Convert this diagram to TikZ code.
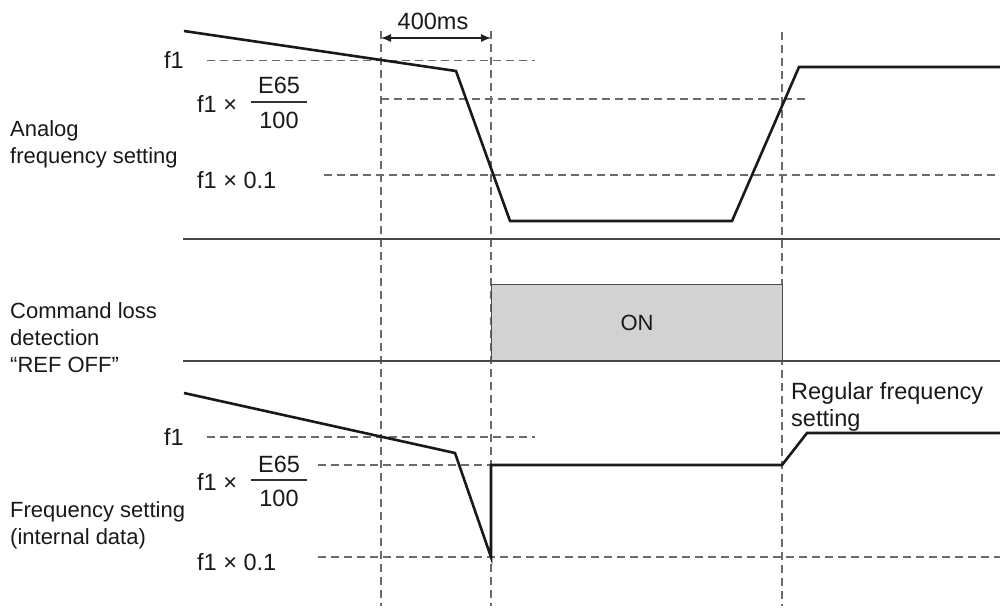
\documentclass[tikz,border=0pt]{standalone}
\usepackage{fontspec}
\setmainfont{Liberation Sans}
\usetikzlibrary{arrows.meta}
\begin{document}
\begin{tikzpicture}[x=1pt,y=-1pt,
  sig/.style={line width=2.6pt, draw=black!90, line join=miter},
  sep/.style={line width=1.2pt, draw=black!72},
  guide/.style={line width=1.1pt, draw=black!58, dash pattern=on 8pt off 5pt},
  lbl/.style={font=\fontsize{22}{27}\selectfont, inner sep=0pt, text=black!90},
  big/.style={font=\fontsize{23.5}{27}\selectfont, inner sep=0pt, text=black!90},
  fracbar/.style={line width=1.1pt, draw=black!80},
  onbox/.style={fill=gray!35, draw=black!70, line width=1.2pt},
  dim/.style={line width=1.2pt, draw=black!88, {Latex[length=10pt,width=8pt]}-{Latex[length=10pt,width=8pt]}}]
\useasboundingbox (0,0) rectangle (1000,610);

% ---------- guide coordinates ----------
\coordinate (v1t) at (381,31);  \coordinate (v1b) at (381,606);
\coordinate (v2t) at (491,31);  \coordinate (v2b) at (491,606);
\coordinate (v3t) at (782,32);  \coordinate (v3b) at (782,606);

% vertical dashed guides
\draw[guide] (v1t) -- (v1b);
\draw[guide] (v2t) -- (v2b);
\draw[guide] (v3t) -- (v3b);

% horizontal dashed guides (upper chart)
\coordinate (hf1a) at (207,60.5); \coordinate (hf1b) at (535,60.5);
\coordinate (hea) at (381,99);    \coordinate (heb) at (806,99);
\coordinate (hla) at (324,175);   \coordinate (hlb) at (1000,175);
\draw[guide] (hf1a) -- (hf1b);
\draw[guide] (hea) -- (heb);
\draw[guide] (hla) -- (hlb);

% horizontal dashed guides (lower chart)
\coordinate (gf1a) at (207,437); \coordinate (gf1b) at (535,437);
\coordinate (gea) at (318,465);  \coordinate (geb) at (491,465);
\coordinate (gla) at (318,557);  \coordinate (glb) at (1000,557);
\draw[guide] (gf1a) -- (gf1b);
\draw[guide] (gea) -- (geb);
\draw[guide] (gla) -- (glb);

% separators
\coordinate (s1a) at (183,239); \coordinate (s1b) at (1000,239);
\coordinate (s2a) at (183,361); \coordinate (s2b) at (1000,361);

% ON box
\node[onbox, minimum width=291pt, minimum height=77pt, inner sep=0pt, anchor=north west] (on) at (491,284) {};
\node[lbl] (ontext) at (on.center) {ON};

\draw[sep] (s1a) -- (s1b);
\draw[sep] (s2a) -- (s2b);

% 400ms dimension
\coordinate (d1) at (381,38); \coordinate (d2) at (491,38);
\draw[dim] (d1) -- (d2);
\node[big, anchor=base] (ms) at (433,30) {400ms};

% upper waveform
\coordinate (a0) at (184,31);
\coordinate (a1) at (456,71);
\coordinate (a2) at (510,221);
\coordinate (a3) at (732,221);
\coordinate (a4) at (799,67);
\coordinate (a5) at (1000,67);
\draw[sig] (a0) -- (a1) -- (a2) -- (a3) -- (a4) -- (a5);

% lower waveform
\coordinate (b0) at (184,393);
\coordinate (b1) at (455,453);
\coordinate (b2) at (491,557);
\coordinate (b3) at (491,465);
\coordinate (b4) at (782,465);
\coordinate (b5) at (807,433);
\coordinate (b6) at (1000,433);
\draw[sig] (b0) -- (b1) -- (b2) -- (b3) -- (b4) -- (b5) -- (b6);

% left labels (base anchor = last line)
\node[lbl, anchor=base west, align=left] (lab1) at (10,163) {Analog\\frequency setting};
\node[lbl, anchor=base west, align=left] (lab2) at (10,372) {Command loss\\detection\\“REF OFF”};
\node[lbl, anchor=base west, align=left] (lab3) at (10,544) {Frequency setting\\(internal data)};
\node[big, anchor=base west, align=left] (lab4) at (791,426) {Regular frequency\\setting};

% upper level labels
\node[big, anchor=base east] (uf1) at (184,68) {f1};
\node[big, anchor=base west] (ufx) at (197,112) {f1 ×};
\node[big, anchor=base] (ue) at (279,93) {E65};
\node[big, anchor=base] (uh) at (279,128) {100};
\coordinate (ufa) at (251,102); \coordinate (ufb) at (307,102);
\draw[fracbar] (ufa) -- (ufb);
\node[big, anchor=base west] (ul) at (197,188) {f1 × 0.1};

% lower level labels
\node[big, anchor=base east] (lf1) at (184,445) {f1};
\node[big, anchor=base west] (lfx) at (197,490) {f1 ×};
\node[big, anchor=base] (le) at (279,472) {E65};
\node[big, anchor=base] (lh) at (279,506) {100};
\coordinate (lfa) at (251,480); \coordinate (lfb) at (307,480);
\draw[fracbar] (lfa) -- (lfb);
\node[big, anchor=base west] (ll) at (197,570) {f1 × 0.1};
\end{tikzpicture}
\end{document}
